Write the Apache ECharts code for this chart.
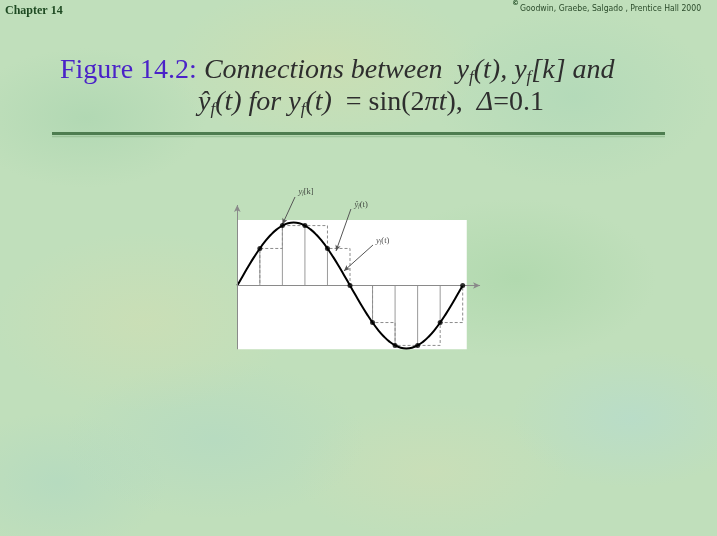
<!DOCTYPE html>
<html><head><meta charset="utf-8">
<script src="https://cdn.jsdelivr.net/npm/echarts@6/dist/echarts.min.js"></script>
<style>
html,body{margin:0;padding:0;}
body{width:717px;height:536px;overflow:hidden;
background:
 radial-gradient(ellipse 120px 70px at 12% 22%, rgba(160,208,170,.45), rgba(160,208,170,0)),
 radial-gradient(ellipse 160px 80px at 45% 12%, rgba(212,222,172,.5), rgba(212,222,172,0)),
 radial-gradient(ellipse 140px 90px at 80% 18%, rgba(165,212,182,.45), rgba(165,212,182,0)),
 radial-gradient(ellipse 150px 90px at 20% 60%, rgba(214,222,176,.45), rgba(214,222,176,0)),
 radial-gradient(ellipse 140px 80px at 72% 52%, rgba(160,210,160,.45), rgba(160,210,160,0)),
 radial-gradient(ellipse 120px 70px at 88% 78%, rgba(178,218,212,.5), rgba(178,218,212,0)),
 radial-gradient(ellipse 150px 80px at 30% 82%, rgba(172,214,198,.45), rgba(172,214,198,0)),
 radial-gradient(ellipse 140px 70px at 60% 88%, rgba(212,222,180,.45), rgba(212,222,180,0)),
 radial-gradient(ellipse 110px 70px at 8% 90%, rgba(170,214,196,.45), rgba(170,214,196,0)),
 #c0dfbb;}
#c{width:717px;height:536px;}
</style></head><body><div id="c"></div>
<script>
// continuous signal y_f(t)
const curveT = [0,0.025,0.05,0.075,0.1,0.125,0.15,0.175,0.2,0.225,0.25,0.275,0.3,0.325,0.35,0.375,0.4,0.425,0.45,0.475,0.5,
  0.525,0.55,0.575,0.6,0.625,0.65,0.675,0.7,0.725,0.75,0.775,0.8,0.825,0.85,0.875,0.9,0.925,0.95,0.975,1];
const curveY = [0,0.156,0.309,0.454,0.588,0.707,0.809,0.891,0.951,0.988,1,0.988,0.951,0.891,0.809,0.707,0.588,0.454,0.309,0.156,0,
  -0.156,-0.309,-0.454,-0.588,-0.707,-0.809,-0.891,-0.951,-0.988,-1,-0.988,-0.951,-0.891,-0.809,-0.707,-0.588,-0.454,-0.309,-0.156,0];
// samples y_f[k], Delta = 0.1
const sampleT = [0,0.1,0.2,0.3,0.4,0.5,0.6,0.7,0.8,0.9,1];
const sampleY = [0,0.588,0.951,0.951,0.588,0,-0.588,-0.951,-0.951,-0.588,0];
// annotation labels and arrow endpoints (data coordinates)
const annLabels = ['yk','yhat','yt'];
const annLabelPos = [[0.305,1.484],[0.549,1.286],[0.645,0.714]];
const annArrowFrom = [[0.256,1.405],[0.504,1.214],[0.602,0.643]];
const annArrowTo = [[0.2,0.97],[0.438,0.548],[0.473,0.23]];
// frame extents
const boxX = [0,1.018];
const boxY = [-1.013,1.04];
const axisEndX = 1.077;
const axisEndY = 1.278;

const chart = echarts.init(document.getElementById('c'));
const serif = 'Liberation Serif';
const small = {
  i:{fontFamily:serif,fontStyle:'italic',fontWeight:'normal',fontSize:8.5,color:'#222',lineHeight:10},
  s:{fontFamily:serif,fontStyle:'italic',fontWeight:'normal',fontSize:5.5,color:'#222',lineHeight:4,verticalAlign:'bottom'},
  n:{fontFamily:serif,fontWeight:'normal',fontSize:8.5,color:'#222',lineHeight:10}
};
const annText = {
  yk:'{i|y}{s|f}{n|[k]}',
  yhat:'{i|ŷ}{s|f}{n|(t)}',
  yt:'{i|y}{s|f}{n|(t)}'
};
const capRich = {
  fig:{fontFamily:serif,fontSize:28,fontWeight:'normal',color:'#4a22c8',lineHeight:32},
  it:{fontFamily:serif,fontSize:28,fontWeight:'normal',fontStyle:'italic',color:'#2e2e2e',lineHeight:32},
  up:{fontFamily:serif,fontSize:28,fontWeight:'normal',color:'#2e2e2e',lineHeight:32},
  sub:{fontFamily:serif,fontSize:17,fontWeight:'normal',fontStyle:'italic',color:'#2e2e2e',lineHeight:14,verticalAlign:'bottom'}
};

chart.setOption({
  animation:false,
  title:[
    {left:60,top:54.5,padding:0,
     text:'{fig|Figure 14.2:}{it| Connections between  y}{sub|f}{it|(t), y}{sub|f}{it|[k] and}',
     textStyle:{fontWeight:'normal',rich:capRich}},
    {left:198,top:86.5,padding:0,
     text:'{it|ŷ}{sub|f}{it|(t) for y}{sub|f}{it|(t)}{up|  = sin(2}{it|πt}{up|),  }{it|Δ}{up|=0.1}',
     textStyle:{fontWeight:'normal',rich:capRich}}
  ],
  graphic:[
    {type:'text',left:5,top:5,style:{text:'Chapter 14',font:'bold 12px "Liberation Serif"',fill:'#1e4a22'}},
    {type:'text',left:512,top:0,style:{text:'©',font:'bold 7px "DejaVu Sans"',fill:'#1e4a22'}},
    {type:'text',left:520,top:4,style:{text:'Goodwin, Graebe, Salgado , Prentice Hall 2000',font:'8.6px "DejaVu Sans Condensed"',fill:'#2a4a2a'}},
    {type:'line',shape:{x1:52,y1:133.5,x2:665,y2:133.5},style:{stroke:'#4e7d50',lineWidth:3}},
    {type:'line',shape:{x1:52,y1:136.5,x2:665,y2:136.5},style:{stroke:'#9cc49a',lineWidth:1.5}}
  ],
  grid:{left:192.22,right:209.22,top:175.25,bottom:156,containLabel:false},
  xAxis:{type:'value',min:-0.2,max:1.2,show:false},
  yAxis:{type:'value',min:-1.5,max:1.75,show:false},
  series:[
    {type:'line',data:[],z:0,silent:true,
     markArea:{silent:true,itemStyle:{color:'#ffffff',opacity:1},
       data:[[{coord:[boxX[0],boxY[0]]},{coord:[boxX[1],boxY[1]]}]]},
     markLine:{silent:true,symbol:['none','arrow'],symbolSize:[5,7],
       lineStyle:{color:'#8a8a8a',width:1,type:'solid'},label:{show:false},
       data:[[{coord:[0,0]},{coord:[axisEndX,0]}],[{coord:[0,boxY[0]]},{coord:[0,axisEndY]}]]}
    },
    {type:'bar',data:sampleT.map((t,i)=>[t,sampleY[i]]),barWidth:1,z:2,silent:true,
     itemStyle:{color:'#9a9a9a'}},
    {type:'line',step:'end',data:sampleT.map((t,i)=>[t,sampleY[i]]),showSymbol:false,z:3,silent:true,
     lineStyle:{color:'#8c8c8c',width:1,type:[3,2]}},
    {type:'line',data:curveT.map((t,i)=>[t,curveY[i]]),smooth:true,showSymbol:false,z:4,silent:true,
     lineStyle:{color:'#000',width:2}},
    {type:'scatter',data:sampleT.slice(1).map((t,i)=>[t,sampleY[i+1]]),symbolSize:5,z:5,silent:true,
     itemStyle:{color:'#000'}},
    {type:'scatter',data:annLabelPos,symbolSize:1,z:6,silent:true,itemStyle:{color:'rgba(0,0,0,0)'},
     label:{show:true,position:'inside',formatter:p=>annText[annLabels[p.dataIndex]],rich:small},
     markLine:{silent:true,symbol:['none','arrow'],symbolSize:[4,6],
       lineStyle:{color:'#555',width:1,type:'solid'},label:{show:false},
       data:annArrowFrom.map((f,i)=>[{coord:f},{coord:annArrowTo[i]}])}
    }
  ]
});
</script></body></html>
